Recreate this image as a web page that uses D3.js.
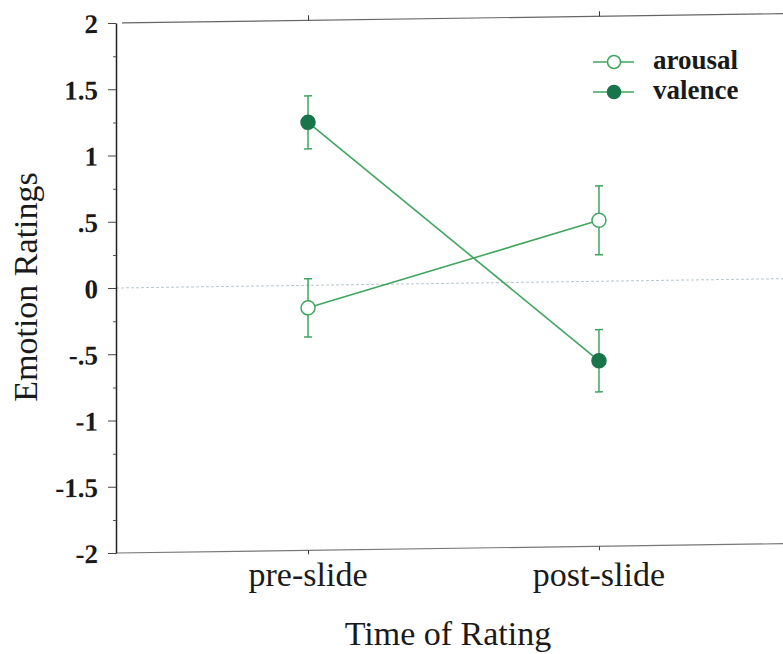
<!DOCTYPE html>
<html>
<head>
<title>Emotion Ratings</title>
<style>
  body, html { margin: 0; padding: 0; background: #fff; }
  svg { display: block; }
</style>
</head>
<body>
<svg id="svg" width="783" height="654"></svg>
<script src="https://d3js.org/d3.v7.min.js"></script>
<script>
  // data
  const categories = ['pre-slide', 'post-slide']
  const arousal = [-0.17, 0.46]
  const arousalErr = [0.22, 0.26]
  const valence = [1.23, -0.6]
  const valenceErr = [0.2, 0.235]
  const yTicks = [2, 1.5, 1, 0.5, 0, -0.5, -1, -1.5, -2]
  const yTickLabels = ['2', '1.5', '1', '.5', '0', '-.5', '-1', '-1.5', '-2']
  const yMinorTicks = [1.75, 1.25, 0.75, 0.25, -0.25, -0.75, -1.25, -1.75]

  const plotLeft = 116
  const plotRight = 791
  const plotTop = 23
  const plotBottom = 553
  const green = '#40a55e'
  const darkGreen = '#18744a'
  const serif = '"Liberation Serif", "Times New Roman", serif'

  const x = d3.scalePoint()
    .domain(categories)
    .range([plotLeft, plotRight])
    .padding(0.66)

  const y = d3.scaleLinear()
    .domain([-2, 2])
    .range([plotBottom, plotTop])

  const svg = d3.select('#svg')

  // the scan is a little sheared, so the plot is too
  const plot = svg.append('g')
    .attr('transform', `translate(${plotLeft},0) skewY(-0.8) translate(${-plotLeft},0)`)

  // zero reference line
  plot.append('line')
    .attr('x1', plotLeft).attr('x2', plotRight)
    .attr('y1', y(0)).attr('y2', y(0))
    .attr('stroke', '#b7c8cf')
    .attr('stroke-width', 1)
    .attr('stroke-dasharray', '3,2')

  // top and bottom frame lines
  plot.append('line')
    .attr('x1', plotLeft + 6).attr('x2', plotRight)
    .attr('y1', y(2)).attr('y2', y(2))
    .attr('stroke', '#666').attr('stroke-width', 1.2)
  plot.append('line')
    .attr('x1', plotLeft).attr('x2', plotRight)
    .attr('y1', y(-2)).attr('y2', y(-2))
    .attr('stroke', '#777').attr('stroke-width', 1.2)

  // x ticks, top and bottom
  plot.append('g')
    .attr('transform', `translate(0,${y(-2)})`)
    .call(d3.axisBottom(x).tickSize(4).tickFormat(''))
    .call(g => g.select('.domain').remove())
    .call(g => g.selectAll('line').attr('stroke', '#333'))
  plot.append('g')
    .attr('transform', `translate(0,${y(2)})`)
    .call(d3.axisTop(x).tickSize(5).tickFormat(''))
    .call(g => g.select('.domain').remove())
    .call(g => g.selectAll('line').attr('stroke', '#333'))

  // left axis
  const leftAxis = d3.axisLeft(y)
    .tickValues(yTicks)
    .tickSize(8)
    .tickSizeOuter(0)
    .tickPadding(10)
    .tickFormat((d, i) => yTickLabels[i])
  plot.append('g')
    .attr('transform', `translate(${plotLeft},0)`)
    .call(leftAxis)
    .call(g => g.select('.domain').attr('stroke', '#222').attr('stroke-width', 1.5))
    .call(g => g.selectAll('.tick line').attr('stroke', '#444'))
    .call(g => g.selectAll('.tick text')
      .attr('font-family', serif)
      .attr('font-size', 27)
      .attr('font-weight', 'bold')
      .attr('fill', '#1a1a1a')
      .attr('dy', '0.34em'))

  plot.append('g')
    .attr('transform', `translate(${plotLeft},0)`)
    .call(d3.axisLeft(y).tickValues(yMinorTicks).tickSize(3).tickFormat(''))
    .call(g => g.select('.domain').remove())
    .call(g => g.selectAll('line').attr('stroke', '#555'))

  // series
  const series = [
    { name: 'arousal', values: arousal, err: arousalErr, fill: '#fff' },
    { name: 'valence', values: valence, err: valenceErr, fill: darkGreen }
  ]

  const linegen = d3.line()
    .x((d, i) => x(categories[i]))
    .y(d => y(d))

  series.forEach(s => {
    const g = plot.append('g')

    g.append('path')
      .attr('d', linegen(s.values))
      .attr('fill', 'none')
      .attr('stroke', green)
      .attr('stroke-width', 1.6)

    s.values.forEach((v, i) => {
      const cx = x(categories[i])
      const hi = y(v + s.err[i])
      const lo = y(v - s.err[i])
      g.append('line')
        .attr('x1', cx).attr('x2', cx)
        .attr('y1', hi).attr('y2', lo)
        .attr('stroke', green).attr('stroke-width', 1.5)
      g.selectAll(null)
        .data([hi, lo])
        .join('line')
        .attr('x1', cx - 4).attr('x2', cx + 4)
        .attr('y1', d => d).attr('y2', d => d)
        .attr('stroke', green).attr('stroke-width', 1.5)
      g.append('circle')
        .attr('cx', cx).attr('cy', y(v))
        .attr('r', 7)
        .attr('fill', s.fill)
        .attr('stroke', s.name === 'valence' ? darkGreen : green)
        .attr('stroke-width', 1.5)
    })
  })

  // x labels
  svg.append('g')
    .selectAll('text')
    .data(categories)
    .join('text')
    .attr('x', d => x(d))
    .attr('y', 586)
    .attr('text-anchor', 'middle')
    .attr('font-family', serif)
    .attr('font-size', 34)
    .attr('fill', '#1a1a1a')
    .text(d => d)

  svg.append('text')
    .attr('x', 448)
    .attr('y', 645)
    .attr('text-anchor', 'middle')
    .attr('font-family', serif)
    .attr('font-size', 34)
    .attr('fill', '#1a1a1a')
    .text('Time of Rating')

  svg.append('text')
    .attr('transform', 'translate(37,287) rotate(-90)')
    .attr('text-anchor', 'middle')
    .attr('font-family', serif)
    .attr('font-size', 34)
    .attr('fill', '#1a1a1a')
    .text('Emotion Ratings')

  // legend
  const legend = svg.append('g')
    .selectAll('g')
    .data(series)
    .join('g')
    .attr('transform', (d, i) => `translate(593,${62 + i * 30})`)

  legend.append('line')
    .attr('x1', 0).attr('x2', 41)
    .attr('stroke', green).attr('stroke-width', 1.5)
  legend.append('circle')
    .attr('cx', 21)
    .attr('r', 6.5)
    .attr('fill', d => d.fill)
    .attr('stroke', d => d.name === 'valence' ? darkGreen : green)
    .attr('stroke-width', 1.5)
  legend.append('text')
    .attr('x', 60)
    .attr('y', 7)
    .attr('font-family', serif)
    .attr('font-size', 27)
    .attr('font-weight', 'bold')
    .attr('fill', '#1a1a1a')
    .text(d => d.name)
</script>
</body>
</html>
